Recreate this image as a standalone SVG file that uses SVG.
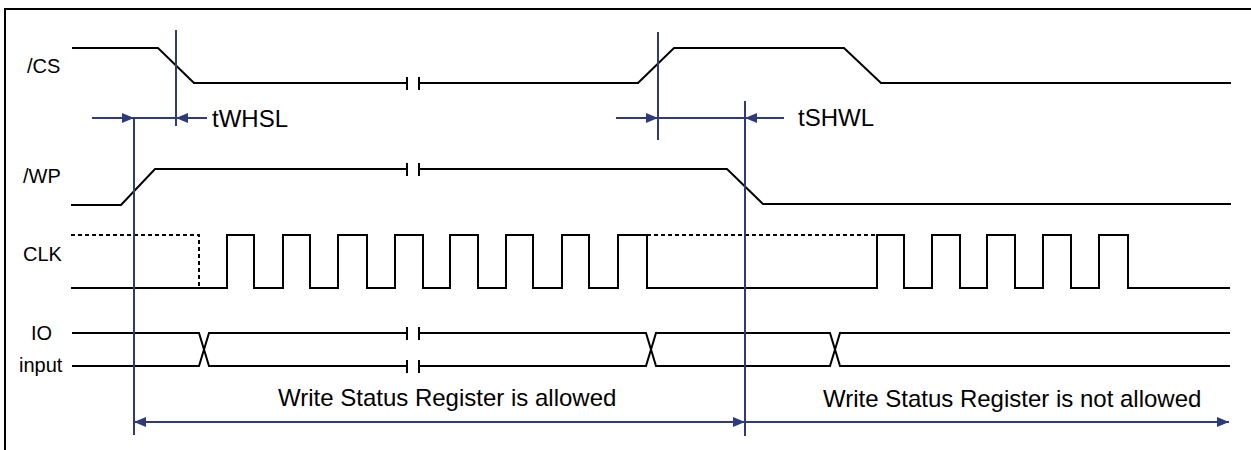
<svg xmlns="http://www.w3.org/2000/svg" width="1251" height="450" viewBox="0 0 1251 450">
<style>
.sig{fill:none;stroke:#000;stroke-width:2;stroke-linejoin:miter}
.dash{fill:none;stroke:#000;stroke-width:2;stroke-dasharray:4 3}
.dim{fill:none;stroke:#2E3A7C;stroke-width:2}
.lbl{font-family:"Liberation Sans",Arial,sans-serif;font-size:20px;fill:#000}
.txt{font-family:"Liberation Sans",Arial,sans-serif;font-size:24px;fill:#000}
</style>
<defs>
<marker id="ah" markerUnits="userSpaceOnUse" markerWidth="13" markerHeight="11" refX="12" refY="5" orient="auto">
<path d="M0,0 L12,5 L0,10 z" fill="#2E3A7C"/>
</marker>
</defs>
<rect x="5" y="9" width="1260" height="460" fill="#fff" stroke="#000" stroke-width="2"/>

<g id="cs">
<text class="lbl" x="27" y="73">/CS</text>
<polyline class="sig" points="72,48 158,48 194,83 407,83"/>
<line class="sig" x1="407" y1="77" x2="407" y2="90"/>
<line class="sig" x1="419" y1="77" x2="419" y2="90"/>
<polyline class="sig" points="419,83 638,83 674,48 844,48 881,83 1231,83"/>
</g>

<g id="wp">
<text class="lbl" x="23" y="183">/WP</text>
<polyline class="sig" points="71,205 121,205 155,169 407,169"/>
<line class="sig" x1="407" y1="163" x2="407" y2="176"/>
<line class="sig" x1="419" y1="163" x2="419" y2="176"/>
<polyline class="sig" points="419,169 727,169 763,204 1231,204"/>
</g>

<g id="clk">
<text class="lbl" x="23" y="261">CLK</text>
<polyline class="dash" points="71,235 199,235 199,288"/>
<polyline class="sig" points="71,288 227,288 227,235 254,235 254,288 283,288 283,235 310,235 310,288 338,288 338,235 367,235 367,288 395,288 395,235 423,235 423,288 450,288 450,235 478,235 478,288 506,288 506,235 533,235 533,288 562,288 562,235 589,235 589,288 618,288 618,235 647,235 647,288 877,288 877,235 904,235 904,288 932,288 932,235 960,235 960,288 987,288 987,235 1015,235 1015,288 1043,288 1043,235 1071,235 1071,288 1099,288 1099,235 1128,235 1128,288 1230,288"/>
<line class="dash" x1="647" y1="235" x2="877" y2="235"/>
</g>

<g id="io">
<text class="lbl" x="31" y="340">IO</text>
<text class="lbl" x="19" y="372">input</text>
<polyline class="sig" points="72,333 199,333 209,366 407,366"/>
<polyline class="sig" points="72,366 199,366 209,333 407,333"/>
<line class="sig" x1="407" y1="327" x2="407" y2="340"/>
<line class="sig" x1="419" y1="327" x2="419" y2="340"/>
<line class="sig" x1="407" y1="360" x2="407" y2="373"/>
<line class="sig" x1="419" y1="360" x2="419" y2="373"/>
<polyline class="sig" points="419,333 646,333 656,366 830,366 840,333 1230,333"/>
<polyline class="sig" points="419,366 646,366 656,333 830,333 840,366 1230,366"/>
</g>

<g id="connectors">
<line class="dim" x1="176" y1="30" x2="176" y2="126"/>
<line class="dim" x1="134" y1="119" x2="134" y2="435"/>
<line class="dim" x1="658" y1="32" x2="658" y2="140"/>
<line class="dim" x1="745" y1="101" x2="745" y2="436"/>
<line class="dim" x1="92" y1="118" x2="134" y2="118" marker-end="url(#ah)"/>
<line class="dim" x1="134" y1="118" x2="176" y2="118"/>
<line class="dim" x1="207" y1="118" x2="176" y2="118" marker-end="url(#ah)"/>
<line class="dim" x1="616" y1="118" x2="658" y2="118" marker-end="url(#ah)"/>
<line class="dim" x1="658" y1="118" x2="745" y2="118"/>
<line class="dim" x1="784" y1="118" x2="745" y2="118" marker-end="url(#ah)"/>
<line class="dim" x1="440" y1="422" x2="134" y2="422" marker-end="url(#ah)"/>
<line class="dim" x1="440" y1="422" x2="745" y2="422" marker-end="url(#ah)"/>
<line class="dim" x1="745" y1="422" x2="1229" y2="422" marker-end="url(#ah)"/>
</g>

<g id="labels">
<text class="txt" x="212" y="127">tWHSL</text>
<text class="txt" x="798" y="126">tSHWL</text>
<text class="txt" x="278" y="406">Write Status Register is allowed</text>
<text class="txt" x="823" y="407">Write Status Register is not allowed</text>
</g>
</svg>
